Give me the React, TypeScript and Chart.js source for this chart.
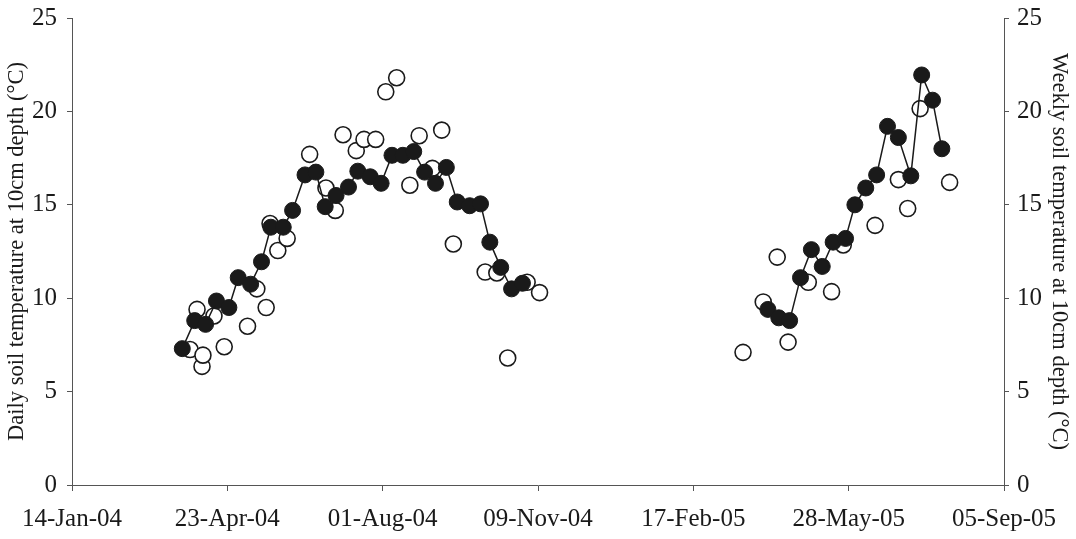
import { useEffect, useRef } from 'react';
import { Chart, registerables } from 'chart.js';

Chart.register(...registerables);

// x values are days since 14-Jan-04
const xTickLabels = ['14-Jan-04', '23-Apr-04', '01-Aug-04', '09-Nov-04', '17-Feb-05', '28-May-05', '05-Sep-05'];

const weeklyDays2004 = [71, 79, 86, 93, 101, 107, 115, 122, 128, 136, 142, 150, 157, 163, 170, 178, 184, 192, 199, 206, 213, 220, 227, 234, 241, 248, 256, 263, 269, 276, 283, 290];
const weeklyTemp2004 = [7.3, 8.8, 8.6, 9.85, 9.5, 11.1, 10.75, 11.95, 13.8, 13.8, 14.7, 16.6, 16.75, 14.9, 15.5, 15.95, 16.8, 16.5, 16.15, 17.65, 17.65, 17.85, 16.75, 16.15, 17.0, 15.15, 14.95, 15.05, 13.0, 11.65, 10.5, 10.8];

const weeklyDays2005 = [448, 455, 462, 469, 476, 483, 490, 498, 504, 511, 518, 525, 532, 540, 547, 554, 560];
const weeklyTemp2005 = [9.4, 8.95, 8.8, 11.1, 12.6, 11.7, 13.0, 13.2, 15.0, 15.9, 16.6, 19.2, 18.6, 16.55, 21.95, 20.6, 18.0];

const dailyDays = [76, 80.5, 83.7, 84.3, 91.4, 98, 113, 119, 125, 127.5, 132.5, 138.5, 153, 163.5, 169.5, 174.5, 183, 188, 195.5, 202, 209, 217.5, 223.5, 232, 238, 245.5, 266, 273.5, 280.5, 293, 301,
  432, 445, 454, 461, 474, 489, 496.5, 517, 532, 538, 546, 565];
const dailyTemp = [7.25, 9.4, 6.35, 6.95, 9.05, 7.4, 8.5, 10.5, 9.5, 14.0, 12.55, 13.2, 17.7, 15.9, 14.7, 18.75, 17.9, 18.5, 18.5, 21.05, 21.8, 16.05, 18.7, 16.95, 19.0, 12.9, 11.4, 11.35, 6.8, 10.85, 10.3,
  7.1, 9.8, 12.2, 7.65, 10.85, 10.35, 12.85, 13.9, 16.35, 14.8, 20.15, 16.2];

const yTickValues = [0, 5, 10, 15, 20, 25];

const FONT = "'Liberation Serif', 'Times New Roman', serif";
const INK = '#1a1a1a';
const AXIS = '#555';

const toPts = (xs: number[], ys: number[]) => xs.map((x, i) => ({ x, y: ys[i] }));

export default function App() {
  const ref = useRef<HTMLCanvasElement>(null);

  useEffect(() => {
    if (!ref.current) return;
    const weeklyStyle = {
      showLine: true,
      borderColor: INK,
      borderWidth: 1.5,
      pointRadius: 8,
      pointBackgroundColor: INK,
      pointBorderColor: INK,
      pointBorderWidth: 1,
      yAxisID: 'y2',
      order: 0,
    };
    const yScale = (position: 'left' | 'right', title: string) => ({
      position,
      min: 0,
      max: 25,
      afterFit: (s: any) => { s.width = 72; s.paddingTop = 0; s.paddingBottom = 0; },
      afterBuildTicks: (s: any) => { s.ticks = yTickValues.map((v) => ({ value: v })); },
      border: { display: true, color: AXIS, width: 1 },
      grid: { drawOnChartArea: false, drawTicks: true, tickLength: 5, color: AXIS },
      ticks: { color: INK, padding: position === 'left' ? 10 : 8, font: { family: FONT, size: 25 } },
      title: {
        display: true,
        text: title,
        color: INK,
        font: { family: FONT, size: 22.5 },
        padding: { top: 4, bottom: 0 },
      },
    });

    const chart = new Chart(ref.current, {
      type: 'scatter',
      data: {
        datasets: [
          { label: 'Weekly 2004', data: toPts(weeklyDays2004, weeklyTemp2004), ...weeklyStyle },
          { label: 'Weekly 2005', data: toPts(weeklyDays2005, weeklyTemp2005), ...weeklyStyle },
          {
            label: 'Daily',
            data: toPts(dailyDays, dailyTemp),
            showLine: false,
            pointRadius: 8,
            pointBackgroundColor: '#fff',
            pointBorderColor: INK,
            pointBorderWidth: 1.6,
            yAxisID: 'y',
            order: 1,
          },
        ],
      },
      options: {
        responsive: false,
        animation: false,
        layout: { padding: { top: 18, left: 0, right: 0, bottom: 0 } },
        plugins: { legend: { display: false }, tooltip: { enabled: false } },
        scales: {
          x: {
            type: 'linear',
            min: 0,
            max: 600,
            afterFit: (s: any) => { s.height = 54; },
            border: { display: true, color: AXIS, width: 1 },
            grid: { drawOnChartArea: false, drawTicks: true, tickLength: 6, color: AXIS },
            ticks: {
              stepSize: 100,
              autoSkip: false,
              maxRotation: 0,
              padding: 13,
              color: INK,
              font: { family: FONT, size: 25 },
              callback: (v: any) => xTickLabels[Math.round(Number(v) / 100)] ?? '',
            },
          },
          y: yScale('left', 'Daily soil temperature at 10cm depth (°C)'),
          y2: yScale('right', 'Weekly soil temperature at 10cm depth (°C)'),
        },
      } as any,
    });
    return () => chart.destroy();
  }, []);

  return (
    <div style={{ position: 'absolute', left: 0, top: 0, width: 1076, height: 539, background: '#fff' }}>
      <canvas ref={ref} width={1076} height={539} />
    </div>
  );
}
